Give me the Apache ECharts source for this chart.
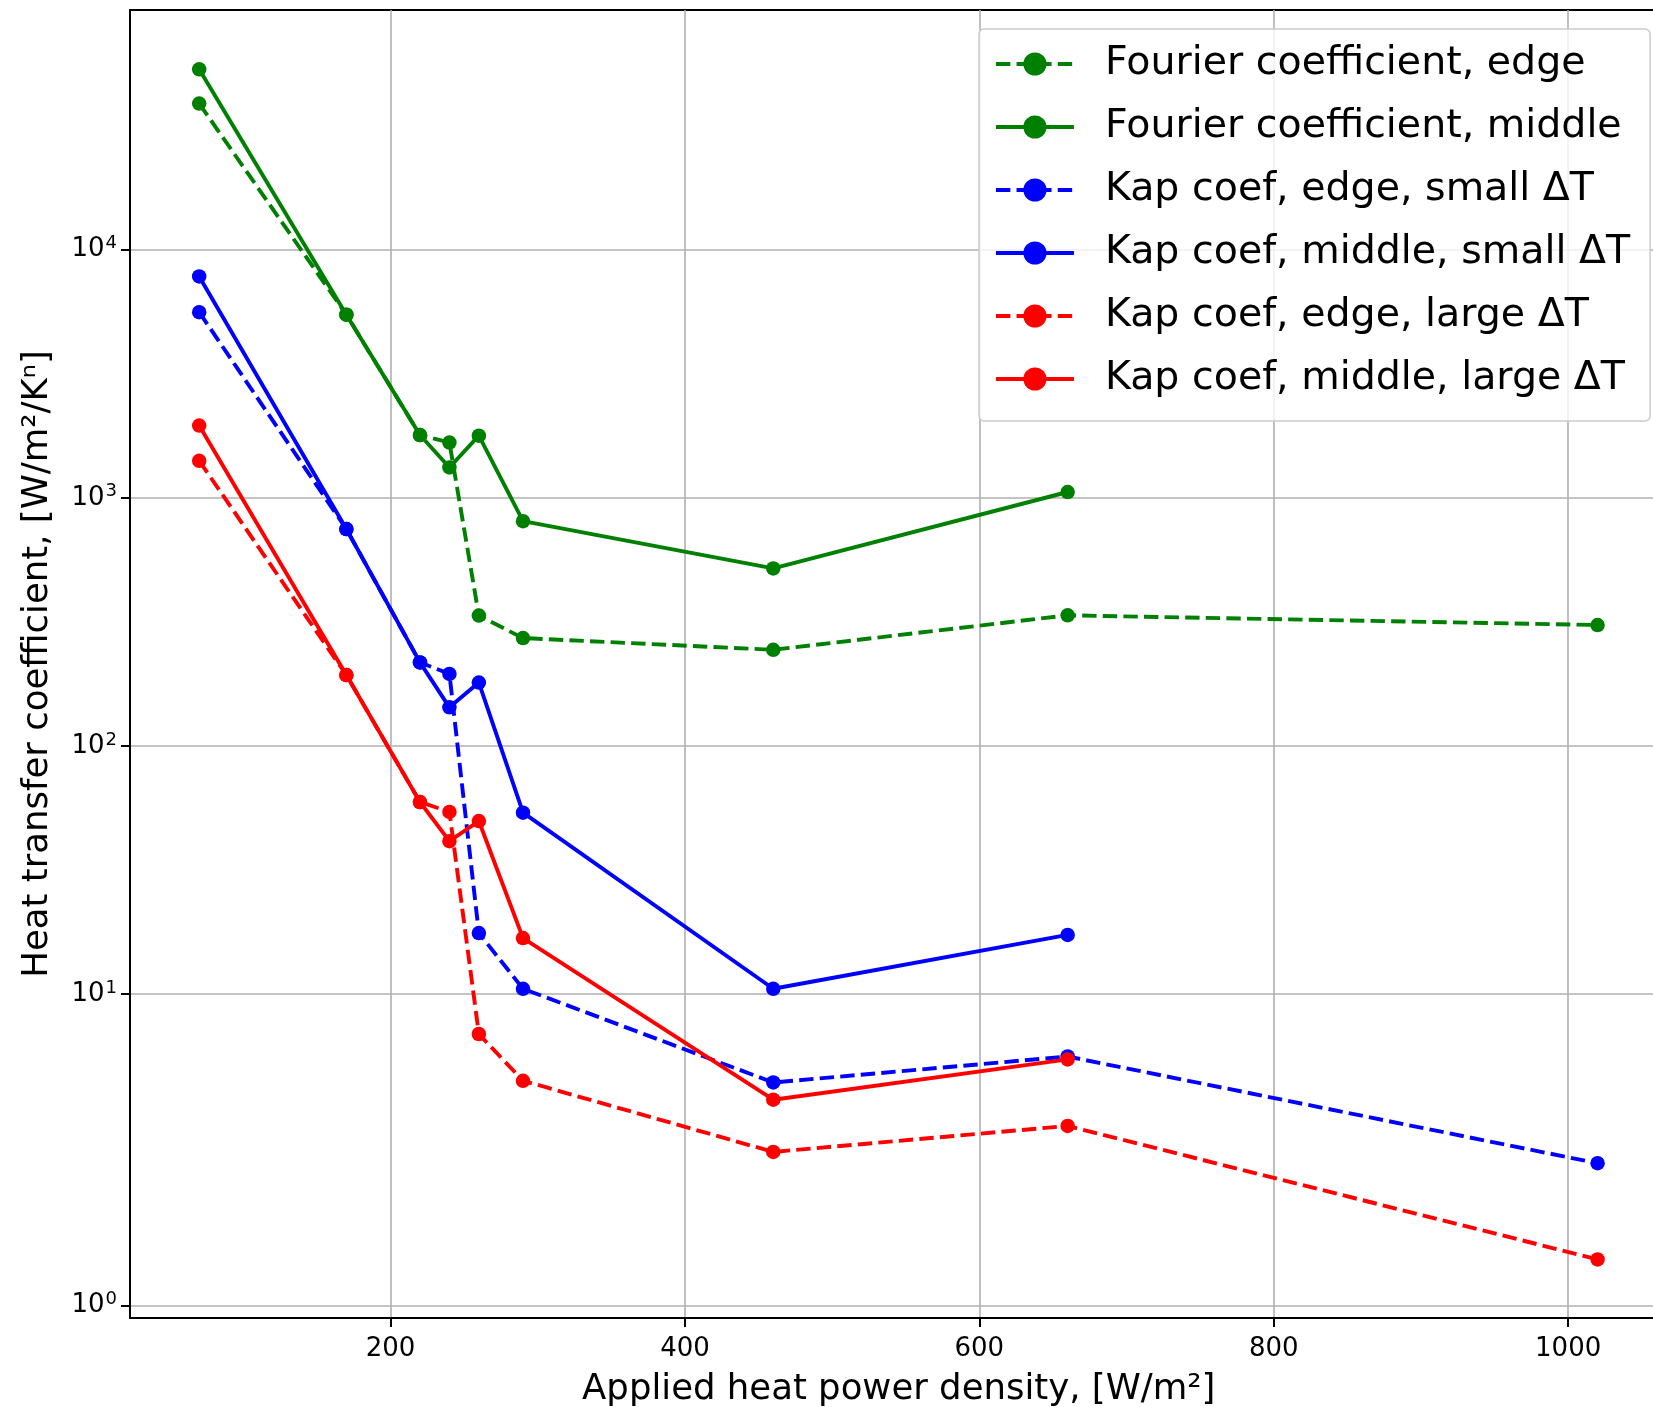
<!DOCTYPE html>
<html><head><meta charset="utf-8">
<script src="https://cdn.jsdelivr.net/npm/echarts@6/dist/echarts.min.js"></script>
<style>html,body{margin:0;padding:0;background:#fff;}#c{width:1653px;height:1407px;}</style>
</head><body><div id="c"></div>
<script>
// ---- data ----
const xValues = [70, 170, 220, 240, 260, 290, 460, 660, 1020];
const fourierEdge = [38800, 5470, 1790, 1670, 335, 272, 244, 336, 307];
const fourierMiddle = [53300, 5470, 1790, 1325, 1780, 805, 519, 1055];
const kapEdgeSmall = [5600, 748, 217, 195, 17.6, 10.5, 4.4, 5.6, 2.08];
const kapMiddleSmall = [7800, 748, 217, 143, 180, 53.8, 10.5, 17.3];
const kapEdgeLarge = [1410, 193, 59.4, 54.2, 6.9, 4.47, 2.31, 2.94, 1.333];
const kapMiddleLarge = [1955, 193, 59.4, 41.3, 49.8, 16.8, 3.75, 5.45];
const seriesNames = [
  'Fourier coefficient, edge',
  'Fourier coefficient, middle',
  'Kap coef, edge, small \u0394T',
  'Kap coef, middle, small \u0394T',
  'Kap coef, edge, large \u0394T',
  'Kap coef, middle, large \u0394T'
];
const xTickValues = [200, 400, 600, 800, 1000];
const yTickValues = [1, 10, 100, 1000, 10000];

// ---- symmetric-log scale (matplotlib symlog, linthresh=2, base 10) ----
const LINTHRESH = 2, LINSCALE_ADJ = 1 / (1 - 1 / 10);
function symlog(v) {
  return v <= LINTHRESH ? v * LINSCALE_ADJ : LINTHRESH * (LINSCALE_ADJ + Math.log10(v / LINTHRESH));
}
function invSymlog(u) {
  return u <= LINTHRESH * LINSCALE_ADJ ? u / LINSCALE_ADJ : LINTHRESH * Math.pow(10, u / LINTHRESH - LINSCALE_ADJ);
}

const FONT = 'DejaVu Sans';
function mk(name, ys, color, dashed) {
  return {
    name, type: 'line',
    data: ys.map((y, i) => [xValues[i], symlog(y)]),
    symbol: 'circle', symbolSize: 14.5, showSymbol: true,
    lineStyle: { color, width: 3.9, type: dashed ? [14.4, 6.2] : 'solid', cap: 'butt' },
    itemStyle: { color },
    emphasis: { disabled: true },
    animation: false
  };
}

const chart = echarts.init(document.getElementById('c'), null, { renderer: 'canvas' });
chart.setOption({
  backgroundColor: '#fff',
  animation: false,
  textStyle: { fontFamily: FONT },
  grid: {
    left: 130, top: 10, right: -14.5, bottom: 89,
    outerBoundsMode: 'none', containLabel: false,
    show: true, borderColor: '#000', borderWidth: 2, backgroundColor: 'transparent'
  },
  legend: {
    orient: 'vertical', left: 979, top: 29,
    padding: [15, 20, 22, 15],
    itemWidth: 78, itemHeight: 29, itemGap: 23,
    backgroundColor: 'rgba(255,255,255,0.8)',
    borderColor: '#cccccc', borderWidth: 1.5, borderRadius: 5,
    lineStyle: { width: 3.9 },
    textStyle: { fontSize: 39.5, color: '#000', fontFamily: FONT, lineHeight: 40, padding: [0, 0, 0, 26] },
    data: seriesNames
  },
  xAxis: {
    type: 'value', min: 23, max: 1067.5,
    axisLine: { show: true, onZero: false, lineStyle: { color: '#000', width: 2 } },
    axisTick: { show: true, length: 9, customValues: xTickValues, lineStyle: { color: '#000', width: 2 } },
    axisLabel: { customValues: xTickValues, fontSize: 26, color: '#000', fontFamily: FONT, margin: 18,
      formatter: v => String(Math.round(v)) },
    splitLine: { show: true, lineStyle: { color: '#b0b0b0', width: 1.6 } },
    name: 'Applied heat power density, [W/m\u00b2]', nameLocation: 'middle', nameGap: 54,
    nameTextStyle: { fontSize: 35.5, color: '#000', fontFamily: FONT }
  },
  yAxis: {
    type: 'value', min: symlog(1) - 0.1025, max: 11.552,
    axisLine: { show: true, onZero: false, lineStyle: { color: '#000', width: 2 } },
    axisTick: { show: true, length: 9, customValues: yTickValues.map(symlog), lineStyle: { color: '#000', width: 2 } },
    axisLabel: {
      customValues: yTickValues.map(symlog), color: '#000', fontFamily: FONT, margin: 13,
      formatter: v => '{b|10}{e|' + Math.round(Math.log10(invSymlog(v))) + '}',
      rich: {
        b: { fontSize: 26, fontFamily: FONT, color: '#000', lineHeight: 30 },
        e: { fontSize: 18, fontFamily: FONT, color: '#000', verticalAlign: 'top', lineHeight: 18, padding: [0, 0, 0, 1] }
      }
    },
    splitLine: { show: true, lineStyle: { color: '#b0b0b0', width: 1.6 } },
    name: 'Heat transfer coefficient, [W/m\u00b2/K\u207f]', nameLocation: 'middle', nameRotate: 90, nameGap: 74,
    nameTextStyle: { fontSize: 35.5, color: '#000', fontFamily: FONT }
  },
  series: [
    mk(seriesNames[0], fourierEdge, '#008000', true),
    mk(seriesNames[1], fourierMiddle, '#008000', false),
    mk(seriesNames[2], kapEdgeSmall, '#0000ff', true),
    mk(seriesNames[3], kapMiddleSmall, '#0000ff', false),
    mk(seriesNames[4], kapEdgeLarge, '#ff0000', true),
    mk(seriesNames[5], kapMiddleLarge, '#ff0000', false)
  ]
});
</script></body></html>
